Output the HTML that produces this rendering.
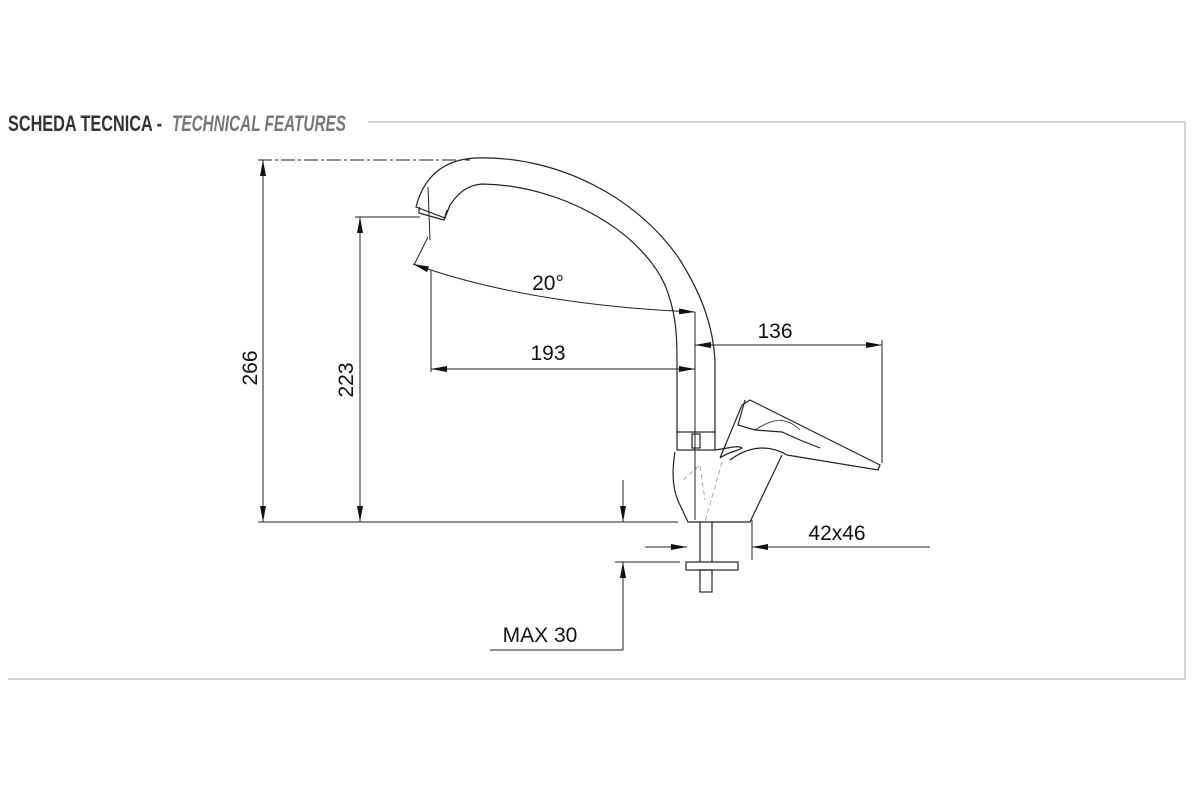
<!DOCTYPE html>
<html><head><meta charset="utf-8"><style>
html,body{margin:0;padding:0;background:#fff;width:1200px;height:800px;overflow:hidden}
svg{display:block}
text{font-family:"Liberation Sans",sans-serif}
</style></head><body>
<svg width="1200" height="800" viewBox="0 0 1200 800" xmlns="http://www.w3.org/2000/svg">
<defs>
<marker id="b" viewBox="0 0 16 6" refX="16" refY="3" markerWidth="16" markerHeight="6" orient="auto-start-reverse" markerUnits="userSpaceOnUse"><path d="M0,0 L16,3 L0,6z" fill="#111"/></marker>
</defs>
<g stroke="#d4d4d4" stroke-width="2" fill="none">
<path d="M368,122 H1185 V679 H8"/>
</g>
<text x="8" y="131" font-size="22" font-weight="bold" fill="#333" textLength="154" lengthAdjust="spacingAndGlyphs">SCHEDA TECNICA -</text>
<text x="172" y="131" font-size="22" font-weight="bold" font-style="italic" fill="#777" textLength="174" lengthAdjust="spacingAndGlyphs">TECHNICAL FEATURES</text>

<g stroke="#222" stroke-width="1.2" fill="none">
<path d="M418,200 C425,180 440,160 475,158 C560,155 640,200 680,260 C705,300 713,330 715,360 V432"/>
<path d="M450,205 C460,190 470,185 482,184 C560,185 640,230 665,285 C675,310 677,330 677,360 V432"/>
<path d="M418,200 L416,207 L445,218 L450,205"/>
<path d="M419,207 L419,213 L444,220 L447,210"/>
<rect x="677" y="432" width="38" height="18"/>
<rect x="692" y="434" width="8" height="14"/>
<path d="M675,452 C672,470 672,490 680,505 L688,522 H750 L782,455"/>
<path d="M715,450 C730,448 738,445 742,448 C735,452 728,452 720,458"/>
<path d="M720,458 L742,405 L750,400 L880,465 L878,470 L787,455 C770,445 750,445 730,460"/>
<path d="M745,400 L738,425 L755,430 L782,432 L800,440 L820,448"/>
<path d="M755,430 C770,420 785,415 800,430" stroke-width="0.8"/>
<g stroke="#999" stroke-width="0.8" stroke-dasharray="5,3">
<path d="M695,450 V520"/>
<path d="M722,462 L705,522"/>
<path d="M683,480 L700,465 L705,500"/>
</g>
<path d="M700,522 V562 M712,522 V562"/>
<rect x="686" y="562" width="52" height="8"/>
<rect x="700" y="570" width="12" height="22"/>
</g>

<g stroke="#222" stroke-width="1" fill="none">
<path d="M258,160 H470" stroke-dasharray="14,3,3,3"/>
<path d="M258,522 H678"/>
<path d="M263,160 V522" marker-start="url(#b)" marker-end="url(#b)"/>
<path d="M355,217 H420"/>
<path d="M360,217 V522" marker-start="url(#b)" marker-end="url(#b)"/>
<path d="M431,270 V372"/>
<path d="M695,312 V520"/>
<path d="M431,369 H695" marker-start="url(#b)" marker-end="url(#b)"/>
<path d="M428,187 L430,240 M428,237 L414,265"/>
<path d="M413,264 C500,295 600,308 695,312" marker-start="url(#b)" marker-end="url(#b)"/>
<path d="M695,345 H882" marker-start="url(#b)" marker-end="url(#b)"/>
<path d="M882,340 V463"/>
<path d="M645,547 H687" marker-end="url(#b)"/>
<path d="M930,547 H752" marker-end="url(#b)"/>
<path d="M752,520 V560"/>
<path d="M623,480 V522" marker-end="url(#b)"/>
<path d="M623,650 V562" marker-end="url(#b)"/>
<path d="M615,562 H680"/>
<path d="M490,650 H623"/>
</g>

<g font-size="21" fill="#111">
<text x="0" y="0" transform="translate(257,368) rotate(-90)" text-anchor="middle">266</text>
<text x="0" y="0" transform="translate(353,380) rotate(-90)" text-anchor="middle">223</text>
<text x="548" y="290" text-anchor="middle">20°</text>
<text x="548" y="360" text-anchor="middle">193</text>
<text x="775" y="338" text-anchor="middle">136</text>
<text x="837" y="540" text-anchor="middle">42x46</text>
<text x="540" y="642" text-anchor="middle">MAX 30</text>
</g>
</svg>
</body></html>
